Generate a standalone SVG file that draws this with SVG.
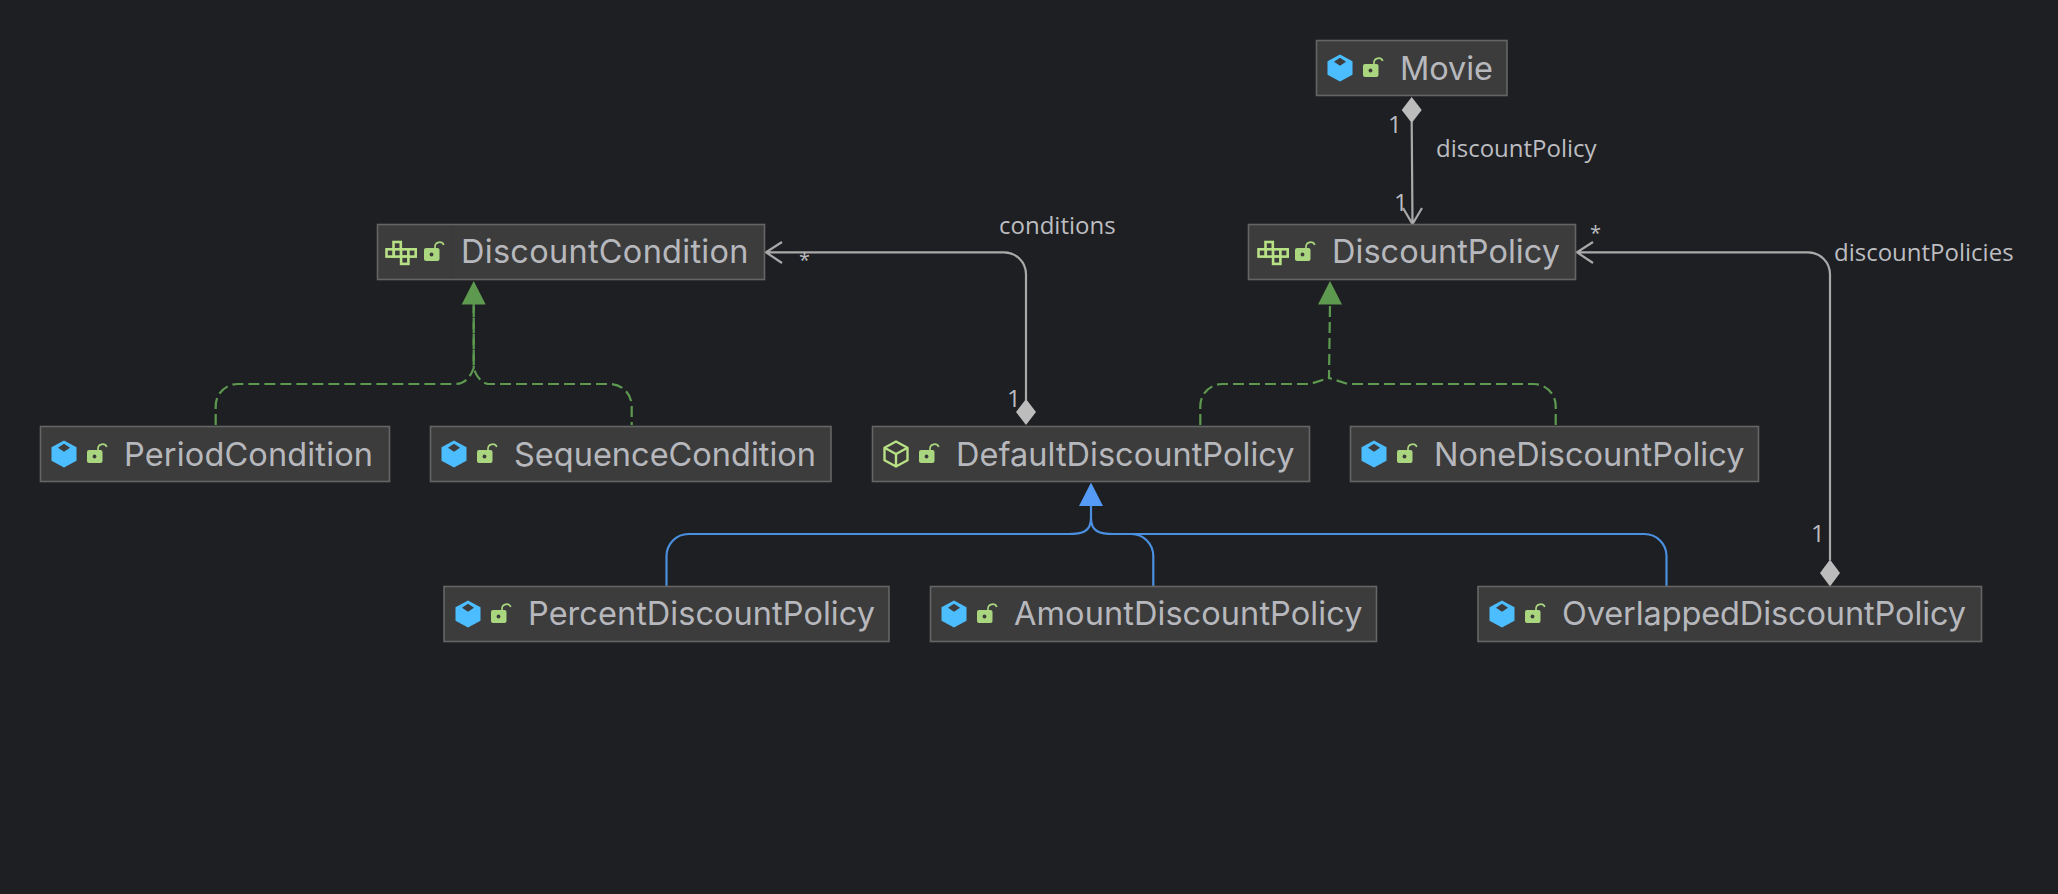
<svg xmlns="http://www.w3.org/2000/svg" width="2058" height="894" viewBox="0 0 2058 894">
<style>
.box{fill:#3c3c3c;stroke:#656565;stroke-width:1.6}
.name{font-family:Inter,"Liberation Sans",sans-serif;font-size:32.500px;fill:#b7b8bd}
.lab{font-family:"Open Sans","Liberation Sans",sans-serif;font-size:24px;fill:#bcbdc1}
.star{font-size:20px}
.c{fill:none;stroke-width:2.200}
.gr{stroke:#a9a9a9}
.gn{stroke:#5d9a50;stroke-dasharray:11 5}
.bl{stroke:#4b8fe0}
.dia{fill:#bcbcbc}
.tg{fill:#5d9a50}
.tb{fill:#549af6}
</style>
<defs>
<g id="lock"><path d="M49 -4h11.500a2 2 0 0 1 2 2v9a2 2 0 0 1 -2 2h-11.500a2 2 0 0 1 -2 -2v-9a2 2 0 0 1 2 -2z" fill="#a9d67e"/><circle cx="54.500" cy="2.500" r="1.900" fill="#3c3c3c"/><path d="M58 -4v-1.500a4.600 4.600 0 0 1 8.800 -1.500" fill="none" stroke="#a9d67e" stroke-width="1.700"/></g>
<g id="cube"><path d="M24 -13.500l12.500 6.700v13.600l-12.500 6.700l-12.500 -6.700v-13.600z" fill="#4cbdff"/><path d="M24 -10.300l6 4l-6 4l-6 -4z" fill="#3c3c3c"/></g>
<g id="acube"><path d="M24 -12.500l11.500 6.300v12.400l-11.500 6.300l-11.500 -6.300v-12.400zM12.500 -6.200l11.500 6.200l11.500 -6.200M24 0v12.500" fill="none" stroke="#b8e084" stroke-width="2.400" stroke-linejoin="round"/></g>
<g id="iface" fill="#3c3c3c" stroke="#b8e084" stroke-width="2.600"><rect x="17.500" y="-10" width="7.300" height="7.300"/><rect x="10.500" y="-2.700" width="7.300" height="7.300"/><rect x="17.800" y="-2.700" width="7.300" height="7.300"/><rect x="25.100" y="-2.700" width="7.300" height="7.300"/><rect x="32.400" y="-2.700" width="7.300" height="7.300"/><rect x="25.100" y="4.600" width="7.300" height="7.300"/></g>
</defs>
<rect width="2058" height="894" fill="#1e1f22"/>
<g id="connectors">
<path class="c gr" d="M1411.700 122L1412.500 224M1403 208L1412.500 224L1422 208"/>
<path class="dia" d="M1411.700 97l10 13l-10 13l-10 -13z"/>
<path class="c gr" d="M766 252.300H1004a22 22 0 0 1 22 22V400M782 242L766 252.300L782 263"/>
<path class="dia" d="M1026 399l10 13l-10 13l-10 -13z"/>
<path class="c gr" d="M1577 252.300H1808a22 22 0 0 1 22 22V560M1593 242L1577 252.300L1593 263"/>
<path class="dia" d="M1830 559.500l10 13.500l-10 13.500l-10 -13.500z"/>
<path class="c gn" d="M215.700 425V406a22 22 0 0 1 22 -22H455Q468 384 473.700 368V304"/>
<path class="c gn" style="stroke-dashoffset:8" d="M631.700 425V406a22 22 0 0 0 -22 -22H488Q478 382 473.700 368V304"/>
<path class="tg" d="M473.700 281l12 23.500h-24z"/>
<path class="c gn" d="M1200.300 425V406a22 22 0 0 1 22 -22H1310L1329 378"/>
<path class="c gn" d="M1555.700 425V406a22 22 0 0 0 -22 -22H1348L1329 378L1330 304"/>
<path class="tg" d="M1330 281l12 23.500h-24z"/>
<path class="c bl" d="M666.500 586V556a22 22 0 0 1 22 -22H1068C1082 534 1091 532 1091 518"/>
<path class="c bl" d="M1153.300 586V556a22 22 0 0 0 -22 -22H1114C1100 534 1091 532 1091 518V504"/>
<path class="c bl" d="M1666.500 586V556a22 22 0 0 0 -22 -22H1114"/>
<path class="tb" d="M1091 482.500l12 23.500h-24z"/>
</g>
<g id="movie"><rect class="box" x="1316.500" y="40.500" width="190.500" height="55"/><use href="#cube" transform="translate(1316 68)"/><use href="#lock" transform="translate(1316 68)"/><text class="name" x="1400" y="80" textLength="93">Movie</text></g>
<g id="discountCondition"><rect class="box" x="377.500" y="224.500" width="387" height="55"/><path d="M452 226V278" stroke="#383838" stroke-width="1"/><use href="#iface" transform="translate(376 252)"/><use href="#lock" transform="translate(377 252)"/><text class="name" x="461" y="263" textLength="287.500">DiscountCondition</text></g>
<g id="discountPolicy"><rect class="box" x="1248.500" y="224.500" width="327" height="55"/><use href="#iface" transform="translate(1248 252)"/><use href="#lock" transform="translate(1248 252)"/><text class="name" x="1332" y="263" textLength="228">DiscountPolicy</text></g>
<g id="periodCondition"><rect class="box" x="40.500" y="426.500" width="349" height="55"/><use href="#cube" transform="translate(40 454)"/><use href="#lock" transform="translate(40 454)"/><text class="name" x="124" y="466" textLength="249">PeriodCondition</text></g>
<g id="sequenceCondition"><rect class="box" x="430.500" y="426.500" width="400.500" height="55"/><use href="#cube" transform="translate(430 454)"/><use href="#lock" transform="translate(430 454)"/><text class="name" x="514" y="466" textLength="302">SequenceCondition</text></g>
<g id="defaultDiscountPolicy"><rect class="box" x="872.500" y="426.500" width="437" height="55"/><use href="#acube" transform="translate(872 454)"/><use href="#lock" transform="translate(872 454)"/><text class="name" x="956" y="466" textLength="338.500">DefaultDiscountPolicy</text></g>
<g id="noneDiscountPolicy"><rect class="box" x="1350.500" y="426.500" width="408" height="55"/><use href="#cube" transform="translate(1350 454)"/><use href="#lock" transform="translate(1350 454)"/><text class="name" x="1434" y="466" textLength="310.500">NoneDiscountPolicy</text></g>
<g id="percentDiscountPolicy"><rect class="box" x="444" y="586.500" width="445" height="55"/><use href="#cube" transform="translate(444 614)"/><use href="#lock" transform="translate(444 614)"/><text class="name" x="528" y="625" textLength="347">PercentDiscountPolicy</text></g>
<g id="amountDiscountPolicy"><rect class="box" x="930.500" y="586.500" width="446" height="55"/><use href="#cube" transform="translate(930 614)"/><use href="#lock" transform="translate(930 614)"/><text class="name" x="1014" y="625" textLength="348.500">AmountDiscountPolicy</text></g>
<g id="overlappedDiscountPolicy"><rect class="box" x="1478" y="586.500" width="503.500" height="55"/><use href="#cube" transform="translate(1478 614)"/><use href="#lock" transform="translate(1478 614)"/><text class="name" x="1562" y="625" textLength="404">OverlappedDiscountPolicy</text></g>
<g id="labels">
<text class="lab" x="1388" y="133">1</text>
<text class="lab" x="1436" y="157">discountPolicy</text>
<text class="lab" x="1394" y="211">1</text>
<text class="lab star" x="1590" y="240">*</text>
<text class="lab" x="999" y="234">conditions</text>
<text class="lab star" x="799" y="267">*</text>
<text class="lab" x="1007" y="407">1</text>
<text class="lab" x="1834" y="261">discountPolicies</text>
<text class="lab" x="1811" y="542">1</text>
</g>
</svg>
